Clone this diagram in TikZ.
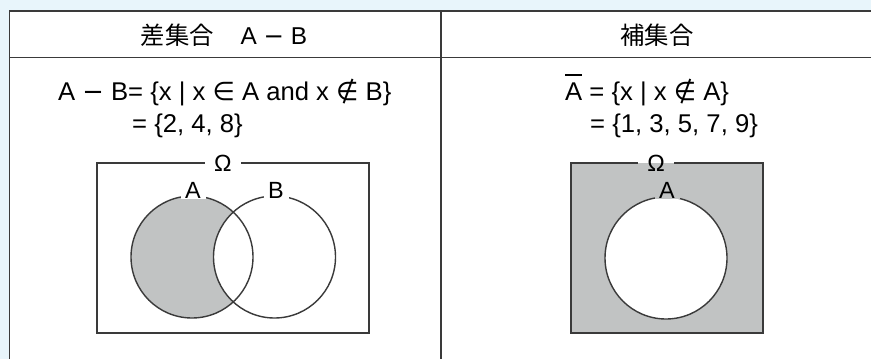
\documentclass[tikz,border=0pt]{standalone}
\usepackage{fontspec}
\setmainfont{Liberation Sans}
\newfontfamily\jpfont{Noto Sans CJK JP}
\newfontfamily\symfont{DejaVu Sans}
\usetikzlibrary{positioning}
\definecolor{rulec}{HTML}{3A3A3A}
\definecolor{greyfill}{HTML}{C1C3C3}
\definecolor{paper}{HTML}{E8F5FB}
\tikzset{
  frame/.style={draw=rulec, line width=1.5pt},
  venn/.style={draw=rulec, line width=1.2pt},
  universe/.style={draw=rulec, line width=1.5pt},
  head/.style={font=\fontsize{20.8}{24}\selectfont, inner sep=0pt},
  formula/.style={font=\fontsize{21.9}{25}\selectfont, inner sep=0pt, anchor=base west},
  tag/.style={font=\fontsize{20}{22}\selectfont, inner xsep=4pt, inner ysep=1pt},
  omega/.style={tag, inner xsep=8pt},
}
\newcommand{\mem}{{\symfont ∈}}
\newcommand{\nmem}{{\symfont ∉}}
\newcommand{\mns}{{\symfont −}}
\newcommand{\compl}[1]{\makebox[0pt][l]{\rule[0.95em]{0.667em}{0.06em}}#1}

\begin{document}
\begin{tikzpicture}[x=0.03cm, y=-0.03cm]
  \useasboundingbox (0,0) rectangle (871,359);
  \fill[paper] (0,0) rectangle (871,359);
  \fill[white] (9.5,11) rectangle (871,359);
  % table rules
  \draw[frame] (871,11) -- (9.5,11) -- (9.5,359);
  \draw[frame] (9.5,57.5) -- (871,57.5);
  \draw[frame] (441,11) -- (441,359);
  % headings
  \node[head] (diffhead) at (224,35) {{\jpfont 差集合}\hspace{1.1em}A \mns{} B};
  \node[head] (comphead) at (657,35) {\jpfont 補集合};
  % definitions
  \node[formula] (diffdef) at (58,100) {A \mns{} B= \{x | x \mem{} A and x \nmem{} B\}};
  \node[formula] (diffset) at (132,132) {= \{2, 4, 8\}};
  \node[formula] (compdef) at (565,100) {\compl{A} = \{x | x \nmem{} A\}};
  \node[formula] (compset) at (590,132) {= \{1, 3, 5, 7, 9\}};
  % difference A - B
  \coordinate (ca) at (192,257);
  \coordinate (cb) at (274.5,257);
  \fill[greyfill] (ca) circle (61);
  \fill[white] (cb) circle (61);
  \node[omega] (omegal) at (223,163) {Ω};
  \draw[universe] (omegal.west) -- (97,163) -- (97,333) -- (369,333) -- (369,163) -- (omegal.east);
  \draw[venn] (ca) circle (61);
  \draw[venn] (cb) circle (61);
  \node[tag, fill=white] (taga) at (193,190) {A};
  \node[tag, fill=white] (tagb) at (276,190) {B};
  % complement of A
  \coordinate (cc) at (666,258);
  \fill[greyfill] (571,163) rectangle (763,333);
  \fill[white] (cc) circle (61);
  \node[omega] (omegar) at (656,163) {Ω};
  \draw[universe] (omegar.west) -- (571,163) -- (571,333) -- (763,333) -- (763,163) -- (omegar.east);
  \draw[venn] (cc) circle (61);
  \node[tag, fill=greyfill] (tagc) at (667,190) {A};
\end{tikzpicture}
\end{document}
